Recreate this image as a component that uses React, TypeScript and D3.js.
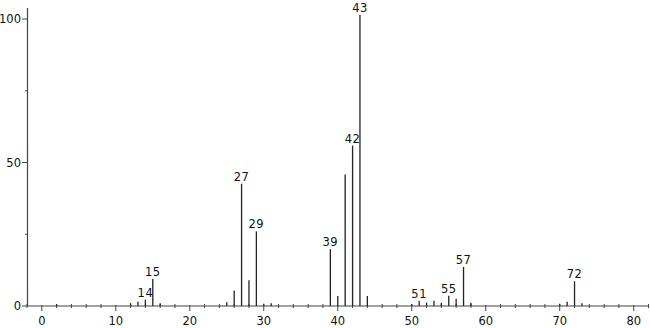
import React from "react";
import * as d3 from "d3";

const mz = [2, 12, 13, 14, 15, 16, 25, 26, 27, 28, 29, 30, 31, 39, 40, 41, 42, 43, 44, 50, 51, 52, 53, 54, 55, 56, 57, 58, 70, 71, 72, 73];
const intensity = [0.6, 1.0, 1.5, 2.2, 9.4, 1.0, 1.3, 5.4, 42.6, 9.0, 26.0, 0.8, 1.0, 19.8, 3.5, 45.8, 55.9, 101.5, 3.5, 0.7, 1.8, 1.2, 1.8, 1.1, 3.6, 2.5, 13.6, 1.1, 0.8, 1.5, 8.6, 1.0];
const labeled = [14, 15, 27, 29, 39, 42, 43, 51, 55, 57, 72];
const xTicks = [0, 10, 20, 30, 40, 50, 60, 70, 80];
const yTicks = [0, 50, 100];
const yMinor = [25, 75];

const W = 650;
const H = 328;
const FONT = "'DejaVu Sans', sans-serif";

export default function App() {
  const x = d3.scaleLinear().domain([-2, 82.2]).range([27, 650]);
  const y = d3.scaleLinear().domain([0, 100]).range([306, 19]);
  const xMinor = d3.range(-2, 83, 2).filter((v) => v % 10 !== 0);
  const stroke = "#222";
  return (
    <svg width={W} height={H} style={{ position: "absolute", left: 0, top: 0, background: "#fff" }}>
      <line x1={27} x2={648} y1={y(0)} y2={y(0)} stroke="#444" strokeWidth={1.2} />
      <line x1={27.5} x2={27.5} y1={8} y2={y(0)} stroke="#444" strokeWidth={1.2} />
      {xTicks.map((t) => (
        <g key={"xt" + t}>
          <line x1={x(t)} x2={x(t)} y1={y(0) - 1} y2={y(0) + 5} stroke="#444" strokeWidth={1} />
          <text x={x(t)} y={325} textAnchor="middle" fontFamily={FONT} fontSize={11.5} fill="#111">{t}</text>
        </g>
      ))}
      {xMinor.map((t) => (
        <line key={"xm" + t} x1={x(t)} x2={x(t)} y1={y(0) - 2} y2={y(0) + 2} stroke="#444" strokeWidth={1} />
      ))}
      {yTicks.map((t) => (
        <g key={"yt" + t}>
          <line x1={22} x2={27.5} y1={y(t)} y2={y(t)} stroke="#444" strokeWidth={1} />
          <text x={21} y={y(t) + 4} textAnchor="end" fontFamily={FONT} fontSize={11.5} fill="#111">{t}</text>
        </g>
      ))}
      {yMinor.map((t) => (
        <line key={"ym" + t} x1={25} x2={27.5} y1={y(t)} y2={y(t)} stroke="#444" strokeWidth={1} />
      ))}
      {mz.map((m, i) => (
        <line key={"p" + m} x1={x(m)} x2={x(m)} y1={y(0)} y2={y(intensity[i])} stroke={stroke} strokeWidth={1.3} />
      ))}
      {mz.map((m, i) =>
        labeled.includes(m) ? (
          <text key={"l" + m} x={x(m)} y={y(intensity[i]) - 3} textAnchor="middle" fontFamily={FONT} fontSize={11.5} letterSpacing={0.5} fill="#111">
            {m}
          </text>
        ) : null
      )}
    </svg>
  );
}
